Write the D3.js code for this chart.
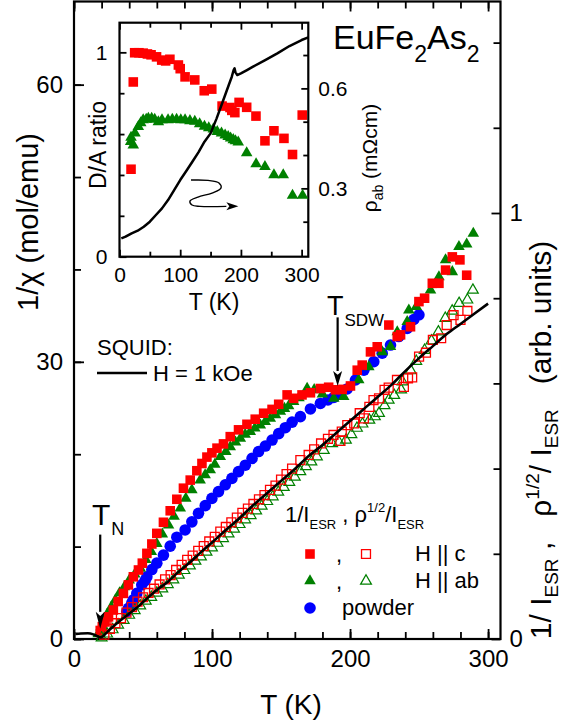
<!DOCTYPE html>
<html>
<head>
<meta charset="utf-8">
<script src="https://cdn.jsdelivr.net/npm/d3@7"></script>
<style>
  body { margin: 0; background: #fff; }
  svg { display: block; font-family: "Liberation Sans", Arial, sans-serif; }
  text { white-space: pre; }
</style>
</head>
<body>
<svg id="chart" width="572" height="721"></svg>
<script>
// ---- data ----
// main panel, T in K; ESR values in arb. units (right axis), SQUID in mol/emu (left axis)
const hcFilled = [[19,.020],[20.5,.029],[22.5,.040],[25,.052],[28.5,.068],[32,.088],[35.8,.107],[39.4,.127],[43,.146],[46.7,.162],[49.5,.178],[52.8,.201],[56.4,.223],[60,.248],[64.8,.274],[69.7,.301],[74.5,.328],[79.3,.354],[84.2,.373],[89,.395],[92.7,.412],[96.3,.427],[99.9,.437],[103.6,.448],[108.3,.458],[113.2,.475],[119.2,.491],[125.3,.504],[131.3,.516],[137.4,.53],[143.5,.539],[148.3,.551],[154.4,.573],[159.1,.565],[165.2,.573],[171.3,.578],[178.5,.588],[184.5,.591],[189.4,.585],[194.3,.586],[200.3,.594],[205.2,.631],[208.8,.643],[214.8,.674],[219.7,.686],[228.1,.737],[234.2,.71],[236.6,.714],[243.8,.733],[249.9,.792],[254,.80],[259.6,.835],[264.4,.835],[269.2,.866],[274.1,.897],[279.6,.89],[284.5,.854]];
const abFilled = [[17.5,.012],[19.5,.028],[21.5,.042],[24,.058],[27,.075],[30,.092],[33,.108],[36.5,.122],[40,.138],[44,.152],[48,.166],[52,.186],[56,.205],[60,.224],[64,.246],[68.5,.267],[72.5,.288],[77,.307],[81,.33],[85.4,.35],[91.4,.373],[95,.385],[98.7,.397],[102,.41],[106,.428],[110,.44],[113.2,.451],[117,.462],[120.5,.471],[124,.48],[127.7,.487],[131,.495],[135,.502],[138.5,.51],[142.2,.518],[146,.526],[149.5,.534],[152.5,.541],[155.5,.547],[159.1,.557],[163,.566],[168.9,.588],[174,.585],[180,.575],[188.2,.565],[195.4,.569],[206.3,.608],[213.6,.639],[223.3,.674],[229.3,.686],[234.2,.721],[241.4,.745],[242.6,.772],[248,.78],[258.3,.819],[264.4,.85],[269.2,.89],[274.1,.862],[278.9,.921],[284.5,.927],[289.3,.952]];
const powder = [[38.2,.064],[39.4,.072],[41.9,.085],[43,.092],[45.5,.107],[49.1,.127],[51.5,.137],[52.8,.146],[56.4,.163],[60,.178],[64.8,.197],[69.7,.218],[74.5,.239],[80.5,.256],[85.4,.275],[90.2,.295],[95.1,.313],[99.9,.33],[104.7,.346],[109.6,.362],[114.4,.377],[119.2,.393],[124.1,.408],[129,.424],[133.7,.44],[138.6,.453],[143.5,.467],[148.3,.482],[153.1,.496],[158,.509],[164,.522],[171.3,.54],[178.5,.553],[184,.561],[188.2,.567],[193,.576],[197.9,.587],[203.9,.608],[210,.631],[217.2,.651],[223.3,.671],[229.3,.69],[235.3,.71],[241.4,.729],[246.2,.75],[249.9,.761]];
const hcOpen = [[22,.010],[26,.024],[30,.037],[34,.049],[38,.062],[42,.075],[46,.088],[50,.098],[54,.108],[58,.118],[62,.128],[66,.14],[70,.15],[74,.162],[78,.174],[82,.186],[86,.196],[90,.207],[94,.218],[98,.229],[102,.240],[106,.252],[110,.263],[114,.274],[118,.285],[122,.296],[126,.306],[130,.317],[134,.328],[138,.338],[142,.35],[146,.36],[150,.374],[154,.387],[158,.400],[164,.42],[170,.432],[174,.445],[179,.459],[184,.47],[188,.479],[193,.465],[194,.487],[198,.502],[203,.506],[207,.53],[210,.518],[214,.545],[217,.561],[221,.565],[225,.585],[228,.59],[234,.608],[239,.592],[242,.612],[245,.614],[250,.663],[255,.672],[260,.702],[266,.706],[270,.737],[275,.760],[280,.749],[285,.770]];
const abOpen = [[20,.003],[24,.012],[28,.022],[32,.033],[36,.044],[40,.056],[44,.067],[48,.078],[52,.089],[56,.098],[60,.108],[64,.118],[68,.128],[72,.139],[76,.15],[80,.161],[84,.172],[88,.183],[92,.193],[96,.204],[100,.214],[104,.225],[108,.236],[112,.247],[116,.258],[120,.269],[124,.28],[128,.29],[132,.301],[136,.312],[140,.323],[144,.334],[148,.345],[152,.356],[156,.368],[160,.38],[164,.393],[168,.405],[172,.416],[176,.428],[181,.443],[187,.459],[192,.462],[197,.467],[201,.48],[205,.495],[209,.505],[214,.514],[218,.522],[221,.53],[225,.548],[228,.561],[232,.572],[237,.585],[238,.604],[244,.630],[248,.652],[254,.678],[259,.70],[264,.721],[269,.753],[274,.770],[279,.788],[285,.796],[289,.819]];
const squid = [[1,.55],[5,.6],[10,.62],[14,.5],[17,.3],[19,.18],[21,.3],[24,.75],[28,1.3],[34,2.05],[40,2.75],[46,3.45],[53,4.4],[60,5.3],[68,6.2],[76,7.3],[84,8.3],[92,9.4],[100,10.45],[110,11.8],[120,13.1],[130,14.5],[140,15.8],[150,17.1],[160,18.4],[170,19.8],[180,21.0],[190,22.3],[200,23.6],[210,24.9],[220,26.2],[230,27.5],[240,29.0],[250,30.4],[260,31.7],[270,33.0],[280,34.1],[290,35.2],[300,36.3]];

// inset: D/A ratio (left) and rho_ab in mOhm cm (right)
const insetHc = [[19,.428],[22.7,.855],[25,.998],[32,.998],[39,.996],[46,.992],[52,.988],[61,.978],[69.5,.962],[76,.958],[83,.966],[97,.938],[100,.92],[108,.88],[124,.865],[139.6,.812],[152,.82],[169,.737],[182,.73],[185,.716],[190,.705],[197,.755],[209.5,.731],[224.8,.688],[239.6,.567],[254.4,.616],[270.9,.579],[285,.50],[301,.693]];
const insetAb = [[18.4,.563],[19,.584],[22.7,.546],[25.5,.604],[31,.636],[35,.655],[39,.669],[44,.672],[47.5,.677],[53,.677],[58,.672],[64,.66],[70,.669],[80,.669],[87,.672],[94,.672],[101,.669],[108,.669],[116,.665],[124,.662],[132,.65],[140,.638],[147,.63],[154.5,.624],[161,.612],[168,.604],[174,.595],[179,.587],[183,.58],[187.4,.572],[191,.566],[195.6,.56],[209.5,.508],[225,.454],[239.6,.44],[254.4,.40],[269.7,.40],[285,.30],[301.6,.30]];
const insetRho = [[3,.150],[10,.155],[20,.165],[30,.173],[40,.185],[50,.2],[60,.22],[70,.24],[80,.265],[90,.295],[100,.325],[110,.352],[120,.38],[130,.408],[140,.44],[150,.465],[160,.51],[170,.56],[180,.61],[185,.635],[188,.655],[189.5,.66],[191,.648],[194,.64],[200,.645],[210,.655],[220,.665],[240,.685],[260,.705],[280,.727],[300,.745],[311,.753]];
// curly "points to right axis" arrow inside the inset, in (T, rho) units
const insetArrow = [[117.8,.325],[145.8,.324],[163.9,.316],[167.2,.301],[152.4,.286],[129.3,.274],[116.1,.262],[119.4,.250],[132.6,.246],[176,.246]];

// tick values
const mainXMajor = [0, 100, 200, 300];
const mainXMinor = d3.range(0, 301, 20);
const mainYLMajor = [0, 30, 60];
const mainYLMinor = d3.range(0, 61, 10);
const mainYRMajor = [0, 1];
const mainYRMinor = [0.2, 0.4, 0.6, 0.8, 1.2, 1.4];
const insXMajor = [0, 100, 200, 300];
const insXMinor = [50, 150, 250];
const insYLMajor = [0, 1];
const insYLMinor = [0.2, 0.4, 0.6, 0.8];
const insYRMajor = [0.3, 0.6];
const insYRMinor = [0.2, 0.4, 0.5, 0.7];

const TN = 19, TSDW = 191;

const RED = "#ff0000", GREEN = "#008000", BLUE = "#0000ff";
const FONT = "'Liberation Sans', Arial, sans-serif";

const svg = d3.select("#chart");

// ---- scales ----
const x = d3.scaleLinear().domain([0, 309]).range([74, 500.5]);
const yL = d3.scaleLinear().domain([0, 69]).range([639, 1.5]);
const yR = d3.scaleLinear().domain([0, 1.4965]).range([639, 1.5]);

const ix = d3.scaleLinear().domain([0, 311]).range([119.5, 308.3]);
const iyL = d3.scaleLinear().domain([0, 1.145]).range([256.7, 22.7]);
const iyR = d3.scaleLinear().domain([0.095, 0.797]).range([256.7, 22.7]);

/**
 * inward ticks: one call for minor (no labels), one for major
 */
function drawAxis(gen, scale, tx, ty, major, minor, o) {
  const gMin = svg.append("g").attr("transform", `translate(${tx},${ty})`)
    .call(gen(scale).tickValues(minor).tickSize(-o.minLen).tickFormat(""));
  const gMaj = svg.append("g").attr("transform", `translate(${tx},${ty})`)
    .call(gen(scale).tickValues(major).tickSize(-o.majLen).tickPadding(o.pad || 0)
      .tickFormat(o.labels ? (o.fmt || d3.format("")) : ""));
  [gMin, gMaj].forEach(g => {
    g.select(".domain").remove();
    g.selectAll("line").attr("stroke", "#000").attr("stroke-width", 1.8);
    g.attr("font-size", o.fs || 10).attr("font-family", FONT);
    g.selectAll("text").attr("fill", "#000");
  });
}

// ---- main axes ----
drawAxis(d3.axisBottom, x, 0, 639, mainXMajor, mainXMinor, {majLen: 10, minLen: 7, pad: 11, fs: 24, labels: true});
drawAxis(d3.axisTop, x, 0, 1.5, mainXMajor, mainXMinor, {majLen: 10, minLen: 7});
drawAxis(d3.axisLeft, yL, 74, 0, mainYLMajor, mainYLMinor, {majLen: 10, minLen: 7, pad: 11, fs: 24, labels: true});
drawAxis(d3.axisRight, yR, 500.5, 0, mainYRMajor, mainYRMinor, {majLen: 9, minLen: 7, pad: 9, fs: 24, labels: true});

svg.append("rect")
  .attr("x", x(0)).attr("y", yL(69))
  .attr("width", x(309) - x(0)).attr("height", yL(0) - yL(69))
  .attr("fill", "none").attr("stroke", "#000").attr("stroke-width", 2.2);

// ---- symbols ----
const sqFill = d3.symbol().type(d3.symbolSquare).size(92)();
const sqOpen = d3.symbol().type(d3.symbolSquare).size(80)();
const triFill = d3.symbol().type(d3.symbolTriangle).size(58)();
const triOpen = d3.symbol().type(d3.symbolTriangle).size(50)();
const RBLUE = 5.8;

function scatter(data, xs, ys, path, fill, stroke, sw) {
  svg.append("g").selectAll("path")
    .data(data)
    .enter()
      .append("path")
      .attr("d", path)
      .attr("transform", d => `translate(${xs(d[0])},${ys(d[1])})`)
      .attr("fill", fill)
      .attr("stroke", stroke)
      .attr("stroke-width", sw);
}

// main data
svg.append("g").selectAll("circle")
  .data(powder)
  .enter()
    .append("circle")
    .attr("cx", d => x(d[0]))
    .attr("cy", d => yR(d[1]))
    .attr("r", RBLUE)
    .attr("fill", BLUE);
scatter(abFilled, x, yR, triFill, GREEN, "none", 0);
scatter(hcFilled, x, yR, sqFill, RED, "none", 0);
scatter(abOpen, x, yR, triOpen, "none", GREEN, 1.2);
scatter(hcOpen, x, yR, sqOpen, "none", RED, 1.3);

const line = d3.line().curve(d3.curveMonotoneX);
svg.append("path")
  .attr("d", line(squid.map(d => [x(d[0]), yL(d[1])])))
  .attr("fill", "none").attr("stroke", "#000").attr("stroke-width", 2.6);

// arrows
function arrow(x1, y1, x2, y2, headLen, headW, sw) {
  const a = Math.atan2(y2 - y1, x2 - x1);
  const bx = x2 - headLen * Math.cos(a), by = y2 - headLen * Math.sin(a);
  svg.append("line").attr("x1", x1).attr("y1", y1).attr("x2", bx).attr("y2", by)
    .attr("stroke", "#000").attr("stroke-width", sw);
  const px = -Math.sin(a) * headW / 2, py = Math.cos(a) * headW / 2;
  svg.append("path")
    .attr("d", `M${x2},${y2}L${bx + px},${by + py}L${bx + headLen * 0.25 * Math.cos(a)},${by + headLen * 0.25 * Math.sin(a)}L${bx - px},${by - py}Z`)
    .attr("fill", "#000");
}
arrow(x(TN), yL(11.3), x(TN), yL(1.1), 17, 9, 2.2);
arrow(x(TSDW), yR(0.755), x(TSDW), yR(0.594), 15, 9, 2.2);

// ---- texts in main panel ----
const tn = svg.append("text").attr("x", 92).attr("y", 525).attr("font-size", 30);
tn.append("tspan").text("T");
tn.append("tspan").attr("font-size", 18).attr("dy", 10).attr("dx", 1).text("N");

const tsdw = svg.append("text").attr("x", 327).attr("y", 315).attr("font-size", 27);
tsdw.append("tspan").text("T");
tsdw.append("tspan").attr("font-size", 17).attr("dy", 11).attr("dx", 1).text("SDW");

const title = svg.append("text").attr("x", 333).attr("y", 49).attr("font-size", 34);
title.append("tspan").text("EuFe");
title.append("tspan").attr("font-size", 23).attr("dy", 13).text("2");
title.append("tspan").attr("dy", -13).text("As");
title.append("tspan").attr("font-size", 23).attr("dy", 13).text("2");

svg.append("text").attr("x", 291).attr("y", 714).attr("font-size", 28)
  .attr("text-anchor", "middle").text("T (K)");

svg.append("text").attr("transform", "translate(38,222) rotate(-90)")
  .attr("font-size", 29).attr("text-anchor", "middle").text("1/\u03c7 (mol/emu)");

const rt = svg.append("text").attr("transform", "translate(551,440) rotate(-90)")
  .attr("font-size", 30).attr("text-anchor", "middle");
rt.append("tspan").text("1/ I");
rt.append("tspan").attr("font-size", 19).attr("dy", 7).text("ESR");
rt.append("tspan").attr("dy", -7).text(" ,   \u03c1");
rt.append("tspan").attr("font-size", 19).attr("dy", -12).text("1/2");
rt.append("tspan").attr("dy", 12).text("/ I");
rt.append("tspan").attr("font-size", 19).attr("dy", 7).text("ESR");
rt.append("tspan").attr("dy", -7).text("   (arb. units)");

// SQUID legend
svg.append("text").attr("x", 97).attr("y", 355).attr("font-size", 22).text("SQUID:");
svg.append("line").attr("x1", 97).attr("x2", 147).attr("y1", 373).attr("y2", 373)
  .attr("stroke", "#000").attr("stroke-width", 2.6);
svg.append("text").attr("x", 153).attr("y", 381).attr("font-size", 22).text("H = 1 kOe");

// ESR legend
const lh = svg.append("text").attr("x", 285).attr("y", 522).attr("font-size", 22);
lh.append("tspan").text("1/I");
lh.append("tspan").attr("font-size", 13).attr("dy", 7).text("ESR");
lh.append("tspan").attr("dy", -7).text(" , \u03c1");
lh.append("tspan").attr("font-size", 13).attr("dy", -10).text("1/2");
lh.append("tspan").attr("dy", 10).text("/I");
lh.append("tspan").attr("font-size", 13).attr("dy", 7).text("ESR");

const legRows = [
  {y: 554, fill: sqFill, open: sqOpen, color: RED, label: "H || c"},
  {y: 581, fill: triFill, open: triOpen, color: GREEN, label: "H || ab"}
];
legRows.forEach(r => {
  svg.append("path").attr("d", r.fill).attr("transform", `translate(310,${r.y})`).attr("fill", r.color);
  svg.append("text").attr("x", 336).attr("y", r.y + 8).attr("font-size", 22).text(",");
  svg.append("path").attr("d", r.open).attr("transform", `translate(366,${r.y})`)
    .attr("fill", "none").attr("stroke", r.color).attr("stroke-width", 1.3);
  svg.append("text").attr("x", 415).attr("y", r.y + 7).attr("font-size", 22).text(r.label);
});
svg.append("circle").attr("cx", 310).attr("cy", 608).attr("r", RBLUE).attr("fill", BLUE);
svg.append("text").attr("x", 342).attr("y", 615).attr("font-size", 22).text("powder");

// ---- inset ----
drawAxis(d3.axisBottom, ix, 0, 256.7, insXMajor, insXMinor, {majLen: 7, minLen: 5, pad: 10, fs: 21, labels: true});
drawAxis(d3.axisTop, ix, 0, 22.7, insXMajor, insXMinor, {majLen: 7, minLen: 5});
drawAxis(d3.axisLeft, iyL, 119.5, 0, insYLMajor, insYLMinor, {majLen: 7, minLen: 5, pad: 12, fs: 21, labels: true});
drawAxis(d3.axisRight, iyR, 308.3, 0, insYRMajor, insYRMinor, {majLen: 7, minLen: 5, pad: 10, fs: 21, labels: true, fmt: d3.format(".1f")});

svg.append("rect")
  .attr("x", ix(0)).attr("y", iyL(1.145))
  .attr("width", ix(311) - ix(0)).attr("height", iyL(0) - iyL(1.145))
  .attr("fill", "none").attr("stroke", "#000").attr("stroke-width", 2.2);

scatter(insetAb, ix, iyL, triFill, GREEN, "none", 0);
scatter(insetHc, ix, iyL, sqFill, RED, "none", 0);

svg.append("path")
  .attr("d", d3.line()(insetRho.map(d => [ix(d[0]), iyR(d[1])])))
  .attr("fill", "none").attr("stroke", "#000").attr("stroke-width", 2.5)
  .attr("stroke-linejoin", "round");

svg.append("path")
  .attr("d", d3.line().curve(d3.curveCatmullRom)(insetArrow.map(d => [ix(d[0]), iyR(d[1])])))
  .attr("fill", "none").attr("stroke", "#000").attr("stroke-width", 1.4);
{
  const last = insetArrow[insetArrow.length - 1];
  const ax = ix(last[0]), ay = iyR(last[1]);
  svg.append("path").attr("d", `M${ax + 12},${ay}L${ax},${ay - 4}L${ax + 3},${ay}L${ax},${ay + 4}Z`).attr("fill", "#000");
}

svg.append("text").attr("x", 214).attr("y", 310).attr("font-size", 23)
  .attr("text-anchor", "middle").text("T (K)");
svg.append("text").attr("transform", "translate(106,145) rotate(-90)")
  .attr("font-size", 23).attr("text-anchor", "middle").text("D/A ratio");
const rl = svg.append("text").attr("transform", "translate(377,158) rotate(-90)")
  .attr("font-size", 21).attr("text-anchor", "middle");
rl.append("tspan").text("\u03c1");
rl.append("tspan").attr("font-size", 14).attr("dy", 6).text("ab");
rl.append("tspan").attr("dy", -6).text(" (m\u03a9cm)");
</script>
</body>
</html>
